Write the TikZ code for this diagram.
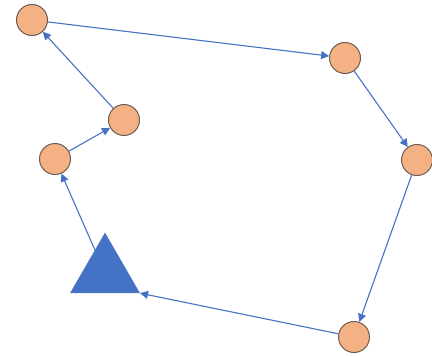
\documentclass[tikz,border=0pt]{standalone}
\usepackage{xcolor}
\usepackage{tikz}
\usetikzlibrary{shapes, arrows, positioning, calc, arrows.meta}

\definecolor{stopfill}{HTML}{F4B183}
\definecolor{stopline}{HTML}{6E5E52}
\definecolor{routeblue}{HTML}{4472C4}

\begin{document}
\begin{tikzpicture}[x=1pt, y=-1pt,
    stop/.style={circle, minimum size=31pt, inner sep=0pt, fill=stopfill, draw=stopline, line width=1pt},
    depot/.style={regular polygon, regular polygon sides=3, minimum size=80.8pt, inner sep=0pt, outer sep=0pt, fill=routeblue},
    route/.style={draw=routeblue, line width=1.1pt, -{Triangle[length=8pt, width=8pt]}}]
    \useasboundingbox (0,0) rectangle (432,356);
    % depot and stops
    \node[depot] (T) at (105,273) {};
    \node[stop] (A) at (32,20) {};
    \node[stop] (B) at (124,120) {};
    \node[stop] (C) at (55,159) {};
    \node[stop] (D) at (345,58) {};
    \node[stop] (E) at (417,160) {};
    \node[stop] (F) at (354,337) {};
    % tour
    \draw[route] (T) -- (C);
    \draw[route] (C) -- (B);
    \draw[route] (B) -- (A);
    \draw[route] (A) -- (D);
    \draw[route] (D) -- (E);
    \draw[route] (E) -- (F);
    \draw[route] (F) -- (T.corner 3);
\end{tikzpicture}
\end{document}
